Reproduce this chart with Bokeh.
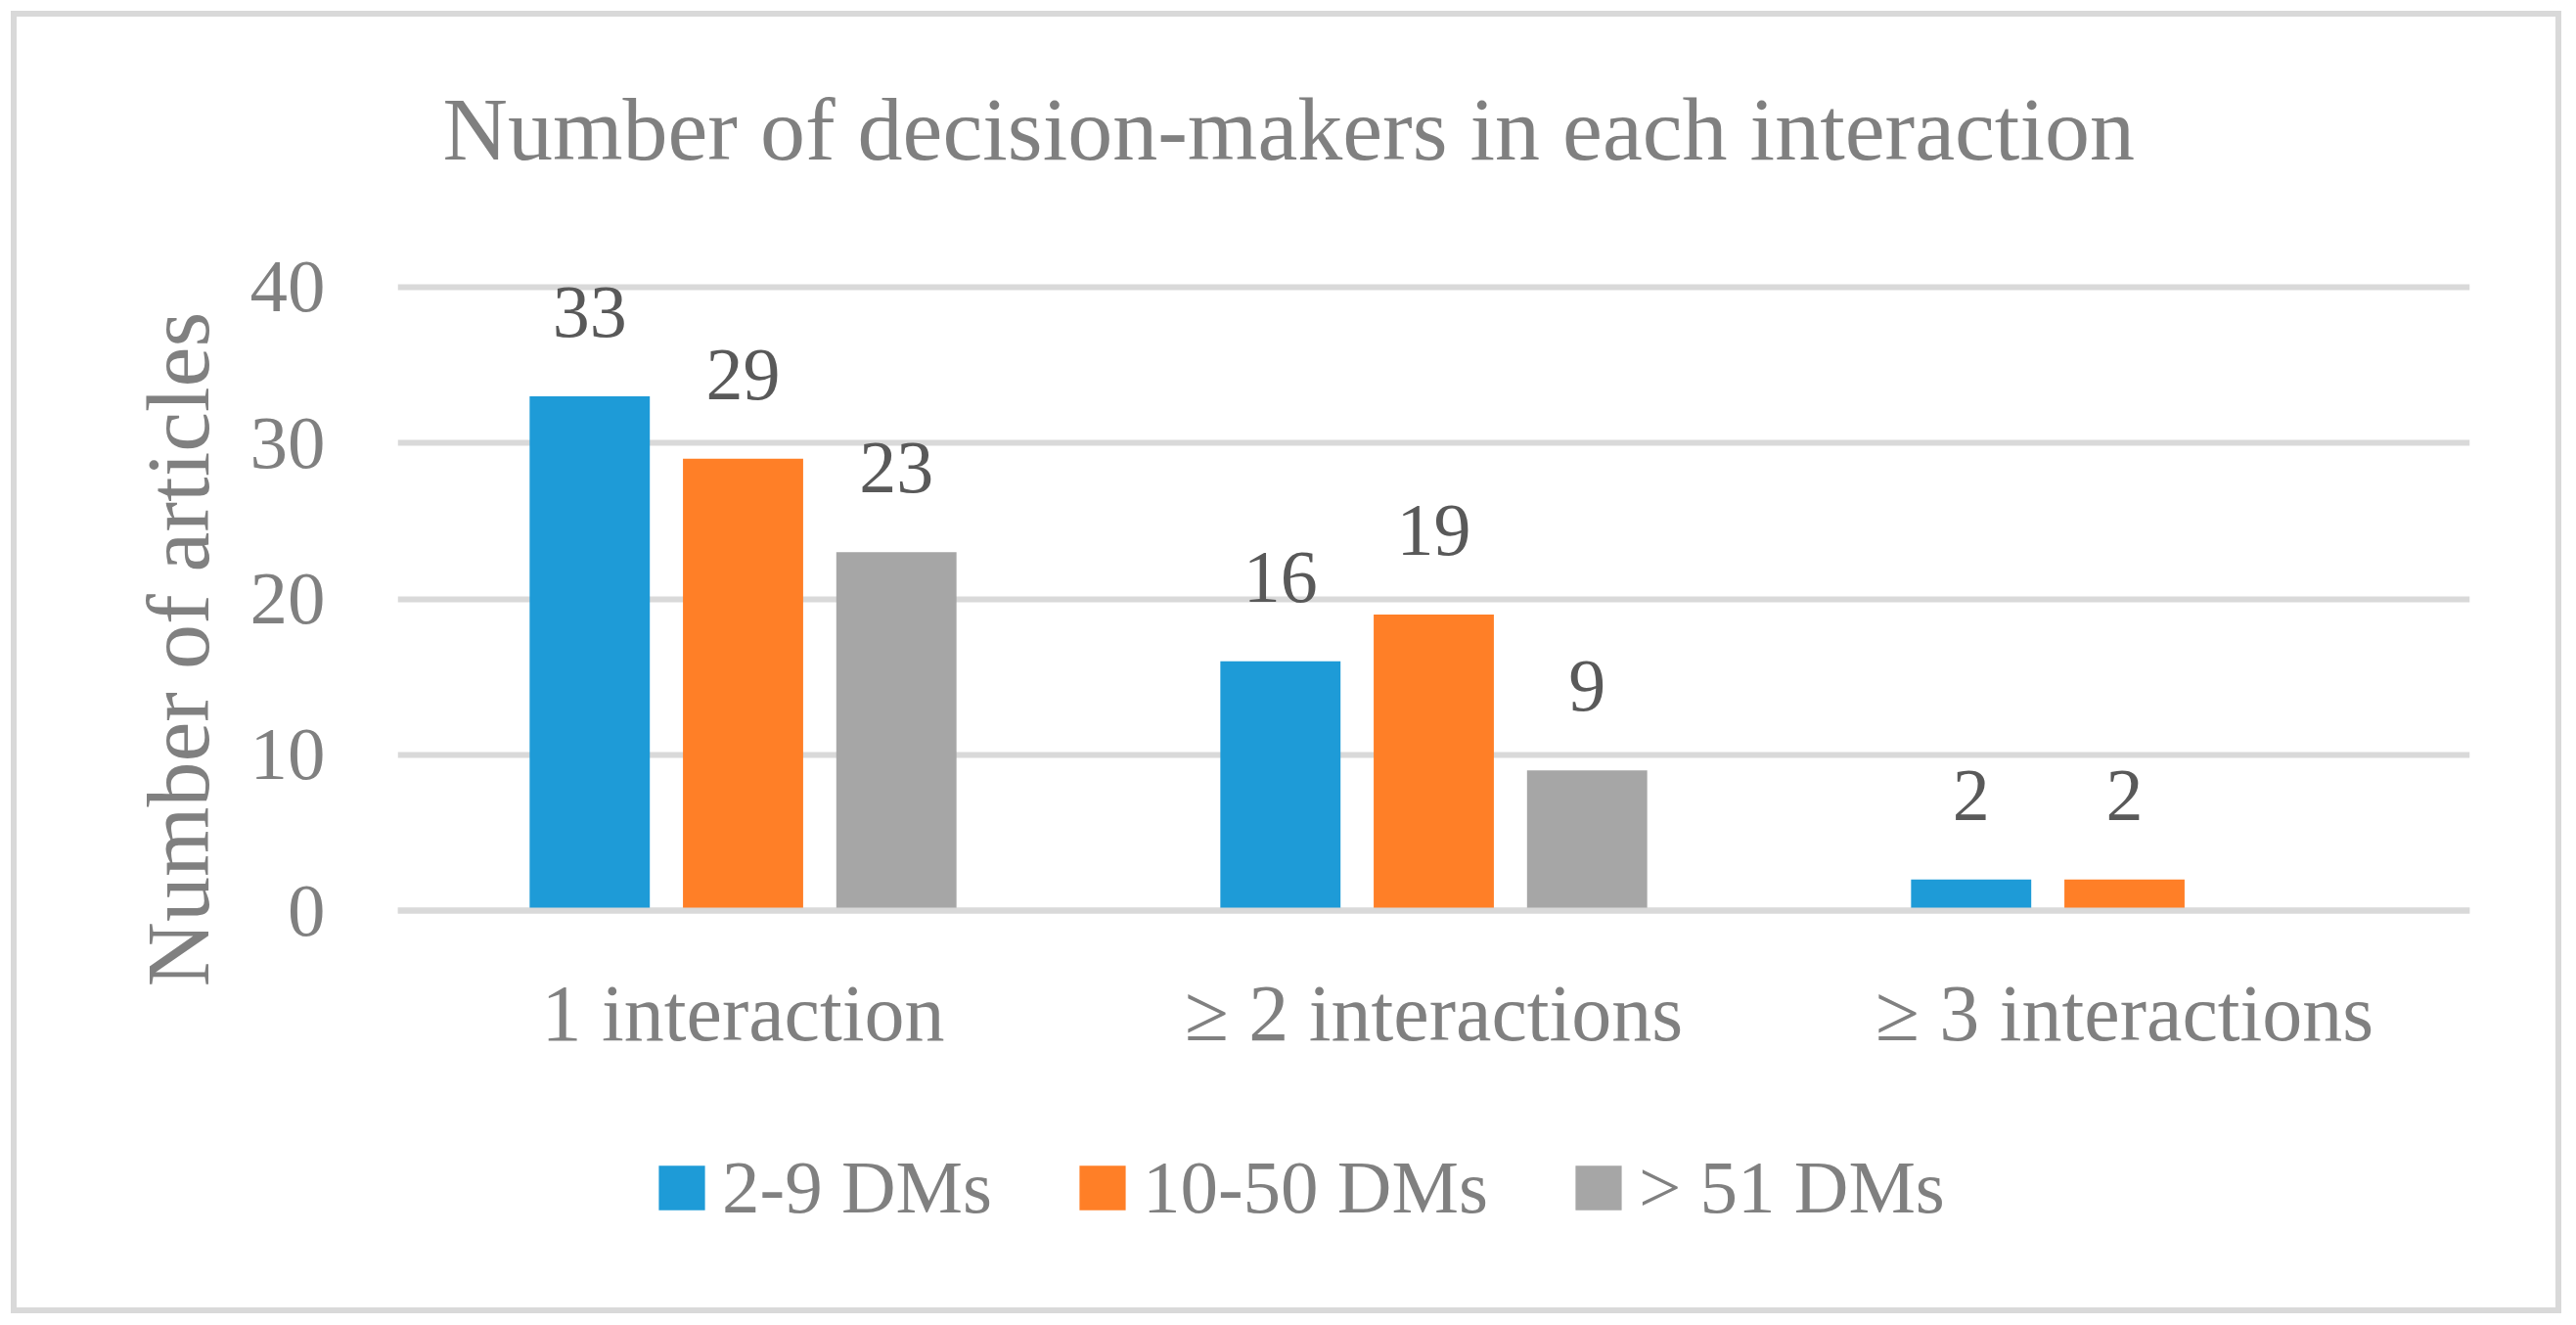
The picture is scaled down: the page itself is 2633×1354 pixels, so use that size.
from bokeh.plotting import figure
from bokeh.layouts import column
from bokeh.models import (ColumnDataSource, FactorRange, Range1d, FixedTicker,
                          Legend, LegendItem, Title, Span)
from bokeh.transform import dodge
from bokeh.core.properties import value
from bokeh.embed import file_html
from bokeh.resources import INLINE

# ---- data ----
categories = ["1 interaction", "\u2265 2 interactions", "\u2265 3 interactions"]
series_names = ["2-9 DMs", "10-50 DMs", "> 51 DMs"]
dm_2_9 = [33, 16, 2]
dm_10_50 = [29, 19, 2]
dm_over_51 = [23, 9, 0]
y_ticks = [0, 10, 20, 30, 40]
title_text = "Number of decision-makers in each interaction"
y_title = "Number of articles"

# ---- style ----
colors = ["#1E9BD7", "#FF7F27", "#A6A6A6"]
offsets = [-0.222, 0.0, 0.222]
FONT = "Liberation Serif"
GRID = "#D9D9D9"
TXT = "#808080"

p = figure(x_range=FactorRange(*categories), y_range=Range1d(-0.25, 40.25),
           frame_width=2118, frame_height=645,
           min_border_left=389, min_border_right=88,
           min_border_top=272, min_border_bottom=203,
           output_backend="svg", toolbar_location=None)
p.outline_line_color = None
p.background_fill_color = "white"
p.border_fill_color = "white"

for name, vals, col, off in zip(series_names, [dm_2_9, dm_10_50, dm_over_51], colors, offsets):
    src = ColumnDataSource(dict(cat=categories, val=vals,
                                lbl=[str(v) if v else "" for v in vals]))
    p.vbar(x=dodge("cat", off, range=p.x_range), top="val", width=0.174,
           source=src, fill_color=col, line_color=None)
    p.text(x=dodge("cat", off, range=p.x_range), y="val", text="lbl", source=src,
           text_align="center", text_baseline="alphabetic", y_offset=-86,
           text_font=value(FONT), text_font_size="76px", text_color="#595959")

p.add_layout(Span(location=0, dimension="width", line_color=GRID, line_width=6))

# grid
p.xgrid.grid_line_color = None
p.ygrid.ticker = FixedTicker(ticks=y_ticks)
p.ygrid.grid_line_color = GRID
p.ygrid.grid_line_width = 6

# axes
p.yaxis.ticker = FixedTicker(ticks=y_ticks)
for ax in (p.xaxis, p.yaxis):
    ax.axis_line_color = None
    ax.major_tick_line_color = None
    ax.minor_tick_line_color = None
    ax.major_label_text_font = FONT
    ax.major_label_text_color = TXT
p.yaxis.major_label_text_font_size = "77px"
p.yaxis.major_label_standoff = 68
p.xaxis.major_label_text_font_size = "82px"
p.xaxis.major_label_standoff = 49

# titles
p.title.text = ""
p.add_layout(Title(text=" ", text_font_size="1px", standoff=99), "above")
p.add_layout(Title(text=title_text, align="left", offset=46, text_font=FONT,
                   text_font_size="92px", text_font_style="normal",
                   text_color=TXT), "above")

p.add_layout(Title(text=y_title, align="left", offset=-74, standoff=40,
                   text_font=FONT, text_font_size="92px",
                   text_font_style="normal", text_color=TXT), "left")

# ---- legend strip below the chart ----
lg = figure(width=2595, height=199, min_border=0, x_range=(0, 1), y_range=(0, 1),
            x_axis_type=None, y_axis_type=None,
            output_backend="svg", toolbar_location=None)
lg.outline_line_color = None
lg.grid.grid_line_color = None
lg.background_fill_color = "white"
lg.border_fill_color = "white"

nan = float("nan")
proxies = []
for name, col in zip(series_names, colors):
    proxies.append(lg.vbar(x=[nan], top=[nan], width=0.1, fill_color=col, line_color=None))

legend = Legend(items=[LegendItem(label=n, renderers=[r]) for n, r in zip(series_names, proxies)],
                orientation="horizontal", location=(261, 78), padding=0, margin=0,
                spacing=83, label_standoff=12, glyph_width=59, glyph_height=57,
                border_line_color=None, background_fill_alpha=0,
                label_text_font=FONT, label_text_font_size="77px",
                label_text_color=TXT)
lg.add_layout(legend)

layout = column(p, lg, spacing=0)
layout.styles = {"margin-left": "17px", "margin-top": "17px",
                 "outline": "6px solid #D9D9D9"}

open("out.html", "w").write(file_html(layout, INLINE, title="chart"))
